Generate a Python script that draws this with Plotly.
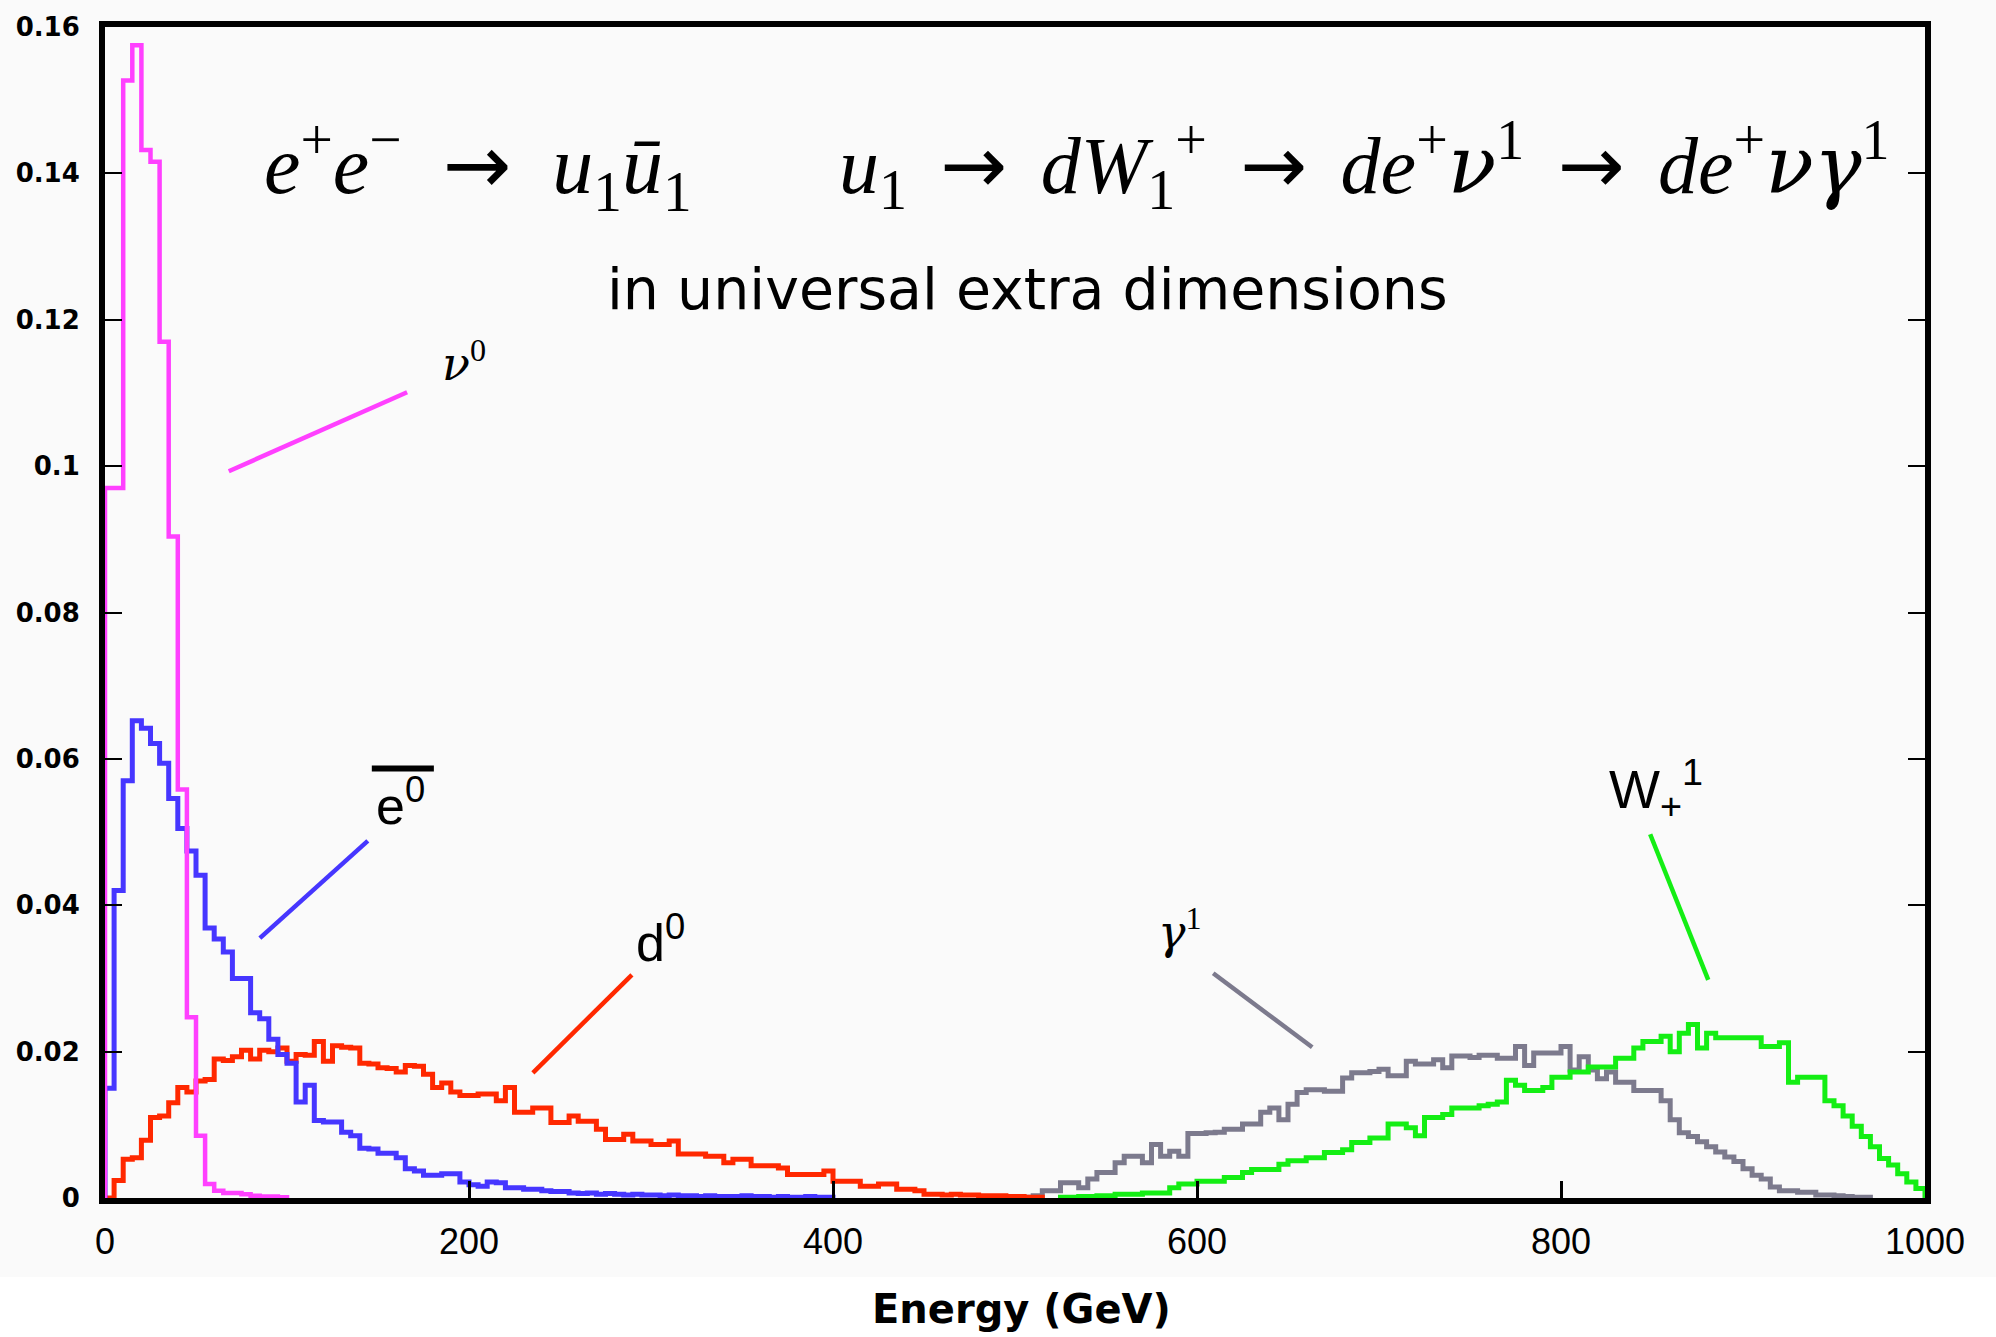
import plotly.graph_objects as go

# ---------------- data (5 GeV bins, 0..1000 GeV) ----------------
BIN_WIDTH = 5.0

# nu^0 (magenta), values start at bin 0
nu0_start = 0
nu0_vals = [0.0970, 0.0970, 0.1527, 0.1575, 0.1432, 0.1416, 0.1170, 0.0904, 0.0558, 0.0247,
            0.0085, 0.0019, 0.0010, 0.0007, 0.0007, 0.0005, 0.0003, 0.0002, 0.0002, 0.0001]

# e-bar^0 (blue), start at bin 0
ebar0_start = 0
ebar0_vals = [0.0150, 0.0420, 0.0570, 0.0652, 0.0642, 0.0621, 0.0594, 0.0546, 0.0505, 0.0474,
              0.0441, 0.0369, 0.0354, 0.0336, 0.0300, 0.0300, 0.0253, 0.0245, 0.0217, 0.0196,
              0.0184, 0.0131, 0.0154, 0.0106, 0.0104, 0.0104, 0.0090, 0.0085, 0.0068, 0.0067,
              0.0061, 0.0061, 0.0055, 0.0040, 0.0037, 0.0031, 0.0031, 0.0033, 0.0033, 0.0022,
              0.0018, 0.0016, 0.0022, 0.0021, 0.0014, 0.0014, 0.0012, 0.0012, 0.0010, 0.0009,
              0.0009, 0.0007, 0.0006, 0.0007, 0.0005, 0.0006, 0.0005, 0.0004, 0.0005, 0.0004,
              0.0004, 0.0003, 0.0004, 0.0003, 0.0003, 0.0002, 0.0003, 0.0002, 0.0002, 0.0002,
              0.0003, 0.0002, 0.0002, 0.0001, 0.0002, 0.0001, 0.0001, 0.0002, 0.0001, 0.0001]

# d^0 (red), start at bin 0
d0_start = 0
d0_vals = [0.0000, 0.0024, 0.0053, 0.0055, 0.0079, 0.0110, 0.0112, 0.0130, 0.0151, 0.0145,
           0.0160, 0.0162, 0.0190, 0.0188, 0.0193, 0.0202, 0.0190, 0.0202, 0.0200, 0.0205,
           0.0187, 0.0196, 0.0195, 0.0214, 0.0187, 0.0208, 0.0206, 0.0205, 0.0184, 0.0183,
           0.0178, 0.0177, 0.0172, 0.0181, 0.0180, 0.0169, 0.0151, 0.0157, 0.0145, 0.0140,
           0.0140, 0.0142, 0.0142, 0.0133, 0.0151, 0.0117, 0.0117, 0.0123, 0.0123, 0.0103,
           0.0103, 0.0112, 0.0105, 0.0105, 0.0094, 0.0080, 0.0080, 0.0087, 0.0078, 0.0078,
           0.0073, 0.0073, 0.0078, 0.0060, 0.0060, 0.0060, 0.0057, 0.0057, 0.0048, 0.0053,
           0.0053, 0.0044, 0.0044, 0.0044, 0.0041, 0.0032, 0.0032, 0.0032, 0.0032, 0.0037,
           0.0023, 0.0023, 0.0023, 0.0016, 0.0016, 0.0019, 0.0019, 0.0012, 0.0012, 0.0010,
           0.0005, 0.0005, 0.0004, 0.0005, 0.0004, 0.0004, 0.0003, 0.0003, 0.0003, 0.0002,
           0.0002, 0.0001, 0.0001]

# gamma^1 (grey), start at bin 100 (500 GeV)
gamma1_start = 100
gamma1_vals = [0.0000, 0.0001, 0.0003, 0.0010, 0.0010, 0.0021, 0.0021, 0.0014, 0.0026, 0.0035,
               0.0035, 0.0048, 0.0057, 0.0057, 0.0048, 0.0073, 0.0057, 0.0064, 0.0057, 0.0088,
               0.0088, 0.0089, 0.0090, 0.0094, 0.0094, 0.0101, 0.0101, 0.0117, 0.0123, 0.0107,
               0.0128, 0.0144, 0.0148, 0.0148, 0.0146, 0.0146, 0.0164, 0.0171, 0.0171, 0.0173,
               0.0176, 0.0167, 0.0167, 0.0187, 0.0183, 0.0183, 0.0189, 0.0178, 0.0194, 0.0194,
               0.0192, 0.0195, 0.0195, 0.0191, 0.0191, 0.0207, 0.0181, 0.0198, 0.0198, 0.0198,
               0.0207, 0.0175, 0.0193, 0.0175, 0.0163, 0.0172, 0.0158, 0.0158, 0.0147, 0.0147,
               0.0147, 0.0133, 0.0107, 0.0089, 0.0084, 0.0077, 0.0070, 0.0063, 0.0056, 0.0050,
               0.0040, 0.0031, 0.0026, 0.0015, 0.0010, 0.0010, 0.0008, 0.0008, 0.0004, 0.0004,
               0.0003, 0.0002, 0.0001, 0.0001]

# W_+^1 (green), start at bin 105 (525 GeV)
w1_start = 105
w1_vals = [0.0001, 0.0001, 0.0002, 0.0002, 0.0003, 0.0003, 0.0005, 0.0005, 0.0005, 0.0007,
           0.0007, 0.0007, 0.0014, 0.0019, 0.0019, 0.0023, 0.0023, 0.0023, 0.0028, 0.0028,
           0.0035, 0.0039, 0.0039, 0.0039, 0.0046, 0.0051, 0.0051, 0.0055, 0.0055, 0.0062,
           0.0062, 0.0066, 0.0076, 0.0076, 0.0082, 0.0082, 0.0101, 0.0101, 0.0096, 0.0085,
           0.0110, 0.0110, 0.0114, 0.0123, 0.0123, 0.0123, 0.0126, 0.0128, 0.0131, 0.0161,
           0.0154, 0.0147, 0.0147, 0.0151, 0.0165, 0.0165, 0.0172, 0.0172, 0.0179, 0.0179,
           0.0179, 0.0191, 0.0191, 0.0205, 0.0214, 0.0214, 0.0221, 0.0200, 0.0225, 0.0237,
           0.0205, 0.0225, 0.0219, 0.0219, 0.0219, 0.0219, 0.0219, 0.0207, 0.0207, 0.0212,
           0.0158, 0.0165, 0.0165, 0.0165, 0.0133, 0.0126, 0.0112, 0.0098, 0.0084, 0.0070,
           0.0054, 0.0045, 0.0033, 0.0022, 0.0013]

x_tick_vals = [0, 200, 400, 600, 800, 1000]
y_tick_vals = [0, 0.02, 0.04, 0.06, 0.08, 0.1, 0.12, 0.14, 0.16]
y_tick_text = ["0", "0.02", "0.04", "0.06", "0.08", "0.1", "0.12", "0.14", "0.16"]

COLORS = {
    "nu0": "#ff40ff",
    "ebar0": "#4636ff",
    "d0": "#ff2800",
    "gamma1": "#7c7a8d",
    "w1": "#14ee14",
}


def step_xy(start, vals):
    xs, ys = [start * BIN_WIDTH], [0.0]
    for i, v in enumerate(vals):
        xs.append((start + i) * BIN_WIDTH)
        ys.append(v)
    end = (start + len(vals)) * BIN_WIDTH
    xs += [end, end]
    ys += [vals[-1], 0.0]
    return xs, ys


fig = go.Figure()

series = [
    ("gamma1", gamma1_start, gamma1_vals, 5),
    ("w1", w1_start, w1_vals, 5),
    ("d0", d0_start, d0_vals, 5),
    ("ebar0", ebar0_start, ebar0_vals, 5),
    ("nu0", nu0_start, nu0_vals, 4.5),
]
for name, start, vals, lw in series:
    xs, ys = step_xy(start, vals)
    fig.add_trace(go.Scatter(x=xs, y=ys, mode="lines", line=dict(color=COLORS[name], width=lw, shape="hv"),
                             showlegend=False, hoverinfo="skip"))

# leader lines from labels to curves
leaders = [
    ("nu0", 68.0, 0.0993, 166.0, 0.1101),
    ("ebar0", 85.1, 0.0355, 144.4, 0.0488),
    ("d0", 235.1, 0.0171, 289.5, 0.0305),
    ("gamma1", 608.9, 0.0307, 663.3, 0.0206),
    ("w1", 849.0, 0.0497, 880.9, 0.0298),
]
shapes = []
for name, x0, y0, x1, y1 in leaders:
    shapes.append(dict(type="line", xref="x", yref="y", x0=x0, y0=y0, x1=x1, y1=y1,
                       line=dict(color=COLORS[name], width=4.5)))
# overline of e-bar label
shapes.append(dict(type="line", xref="x", yref="y", x0=146.6, y0=0.0587, x1=180.7, y1=0.0587,
                   line=dict(color="black", width=6)))
# white strip at the bottom of the page
shapes.append(dict(type="rect", xref="paper", yref="paper", x0=-0.2, x1=1.2, y0=-0.3, y1=-0.0675,
                   fillcolor="white", line=dict(width=0), layer="below"))

SERIF = "Liberation Serif, DejaVu Serif, serif"
SANS = "Liberation Sans, Arial, sans-serif"
ARROW = '<span style="font-family:DejaVu Sans">→</span>'
GAP = " \u2006"


def greek(c):
    return '<span style="font-family:DejaVu Serif">' + c + '</span>'


annotations = [
    dict(x=197.5, y=0.1143, text="<i>" + greek("ν") + "</i><sup>0</sup>",
         font=dict(family=SERIF, size=46, color="black")),
    dict(x=162.6, y=0.0541, text="e<sup>0</sup>", font=dict(family=SANS, size=52, color="black")),
    dict(x=305.0, y=0.0354, text="d<sup>0</sup>", font=dict(family=SANS, size=52, color="black")),
    dict(x=590.7, y=0.0367, text="<i>" + greek("γ") + "</i><sup>1</sup>",
         font=dict(family=SERIF, size=46, color="black")),
    dict(x=852.3, y=0.0559, text="W<sub>+</sub><sup>1</sup>", font=dict(family=SANS, size=54, color="black")),
]
for a in annotations:
    a.update(xref="x", yref="y", showarrow=False, xanchor="center", yanchor="middle")

formula_left = ("<i>e</i><sup>+</sup><i>e</i><sup>−</sup>\u2002" + ARROW +
                "\u2002<i>u</i><sub>1</sub><i>ū</i><sub>1</sub>")
formula_right = ("<i>u</i><sub>1</sub>" + GAP + ARROW + GAP + "<i>dW</i><sub>1</sub><sup>+</sup>" + GAP +
                 ARROW + GAP + "<i>de</i><sup>+</sup><i>" + greek("ν") + "</i><sup>1</sup>" + GAP +
                 ARROW + GAP + "<i>de</i><sup>+</sup><i>" + greek("ν") + greek("γ") + "</i><sup>1</sup>")

annotations += [
    dict(xref="paper", yref="paper", x=0.2047, y=0.882, xanchor="center", yanchor="middle", showarrow=False,
         text=formula_left, font=dict(family=SERIF, size=82, color="black")),
    dict(xref="paper", yref="paper", x=0.6918, y=0.882, xanchor="center", yanchor="middle", showarrow=False,
         text=formula_right, font=dict(family=SERIF, size=80, color="black")),
    dict(xref="paper", yref="paper", x=0.5071, y=0.7763, xanchor="center", yanchor="middle", showarrow=False,
         text="in universal extra dimensions",
         font=dict(family="DejaVu Sans, Verdana, sans-serif", size=57, color="black")),
    dict(xref="paper", yref="paper", x=0.5038, y=-0.0948, xanchor="center", yanchor="middle", showarrow=False,
         text="<b>Energy (GeV)</b>",
         font=dict(family="DejaVu Sans, Verdana, sans-serif", size=40, color="black")),
]

fig.update_layout(
    width=1996, height=1337, autosize=False,
    margin=dict(l=105, r=71, t=27, b=139, pad=0),
    paper_bgcolor="#fafafa", plot_bgcolor="#fafafa",
    shapes=shapes, annotations=annotations,
    showlegend=False,
)
fig.update_xaxes(
    range=[0, 1000], tickvals=x_tick_vals, ticktext=[str(v) for v in x_tick_vals],
    ticks="inside", ticklen=17, tickwidth=3, tickcolor="black",
    showline=True, linecolor="black", linewidth=6, mirror=True,
    showgrid=False, zeroline=False, ticklabelstandoff=7,
    tickfont=dict(family=SANS, size=36, color="black"),
)
fig.update_yaxes(
    range=[0, 0.16], tickvals=y_tick_vals, ticktext=y_tick_text,
    ticks="inside", ticklen=17, tickwidth=2, tickcolor="black",
    showline=True, linecolor="black", linewidth=6, mirror="ticks",
    showgrid=False, zeroline=False, ticklabelstandoff=14,
    tickfont=dict(family="DejaVu Sans, Verdana, sans-serif", size=26, color="black", weight="bold"),
)

fig.write_html("out.html")
